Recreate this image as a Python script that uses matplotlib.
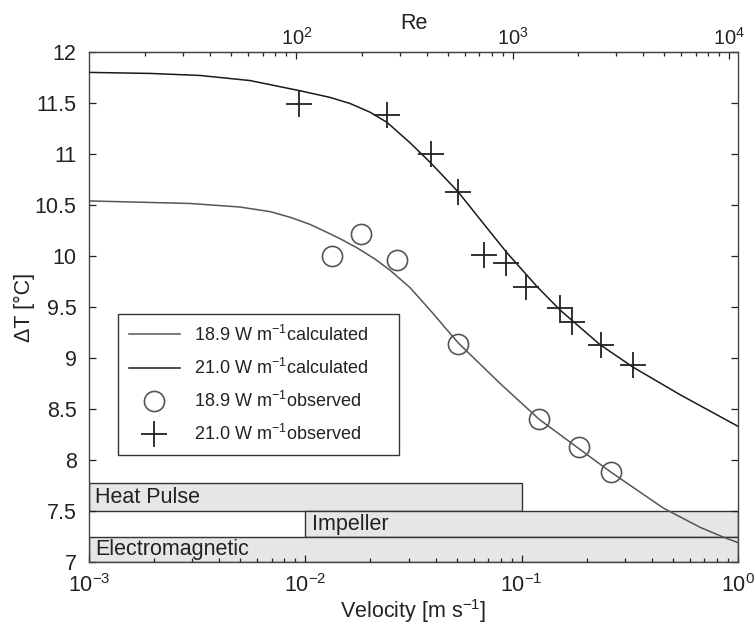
import matplotlib
matplotlib.use("Agg")
import matplotlib.pyplot as plt
import numpy as np
from matplotlib.ticker import FormatStrFormatter, MultipleLocator, FixedLocator

plt.rcParams['font.family'] = ['Liberation Sans', 'DejaVu Sans']
plt.rcParams['mathtext.default'] = 'regular'

# calculated curves
v_calc_hi = [0.001, 0.00191, 0.00326, 0.00555, 0.00945, 0.0130, 0.0161, 0.0199,
             0.02386, 0.03048, 0.0381, 0.0508, 0.0642, 0.0856, 0.1178, 0.1505,
             0.2305, 0.3273, 0.540, 1.0]
dt_calc_hi = [11.80, 11.79, 11.77, 11.72, 11.62, 11.555, 11.495, 11.41,
              11.31, 11.11, 10.91, 10.63, 10.36, 10.03, 9.70, 9.47,
              9.13, 8.91, 8.64, 8.33]

v_calc_lo = [0.001, 0.00293, 0.00499, 0.00687, 0.00850, 0.01051, 0.01208, 0.01447,
             0.01734, 0.02099, 0.02464, 0.03048, 0.03772, 0.0508, 0.0795, 0.1203,
             0.1843, 0.2590, 0.4506, 0.668, 0.853, 1.0]
dt_calc_lo = [10.54, 10.515, 10.48, 10.435, 10.38, 10.31, 10.25, 10.17,
              10.08, 9.97, 9.86, 9.69, 9.47, 9.15, 8.75, 8.40,
              8.11, 7.88, 7.53, 7.34, 7.245, 7.19]

# observed
v_obs_lo = [0.01327, 0.0181, 0.0266, 0.0508, 0.120, 0.184, 0.259]
dt_obs_lo = [10.00, 10.22, 9.96, 9.14, 8.40, 8.13, 7.88]

v_obs_hi = [0.00935, 0.0239, 0.0381, 0.0508, 0.067, 0.0847, 0.105, 0.150, 0.171, 0.233, 0.327]
dt_obs_hi = [11.49, 11.38, 11.00, 10.63, 10.01, 9.93, 9.70, 9.49, 9.35, 9.13, 8.93]

# measurement ranges of the methods
methods = ['Heat Pulse', 'Impeller', 'Electromagnetic']
m_start = [0.001, 0.01, 0.001]
m_end = [0.1, 1.0, 1.0]
m_low = [7.5, 7.25, 7.0]
m_high = [7.77, 7.5, 7.25]

re_factor = 1.1e4
re_ticks = [1e2, 1e3, 1e4]

fig = plt.figure(figsize=(7.56, 6.27), dpi=100)
ax = fig.add_axes([89 / 756, 1 - 562 / 627, 649 / 756, 510 / 627])

for name, s, e, lo, hi in zip(methods, m_start, m_end, m_low, m_high):
    ax.barh((lo + hi) / 2, e - s, left=s, height=hi - lo, color='#e6e6e6',
            edgecolor='#333333', linewidth=1, zorder=1)
    ax.text(s * 1.07, (lo + hi) / 2 - 0.005, name, va='center', ha='left',
            fontsize=15.5, color='#222222', zorder=2)

l1, = ax.plot(v_calc_lo, dt_calc_lo, color='#555555', lw=1.1, zorder=3,
              label='18.9 W m$^{-1}$calculated')
l2, = ax.plot(v_calc_hi, dt_calc_hi, color='#1a1a1a', lw=1.1, zorder=3,
              label='21.0 W m$^{-1}$calculated')
p1, = ax.plot(v_obs_lo, dt_obs_lo, 'o', mfc='none', mec='#555555', ms=14.5, mew=1.2,
              zorder=4, label='18.9 W m$^{-1}$observed')
p2, = ax.plot(v_obs_hi, dt_obs_hi, '+', color='#222222', ms=19, mew=1.3,
              zorder=4, label='21.0 W m$^{-1}$observed')

ax.set_xscale('log')
ax.set_xlim(1e-3, 1)
ax.set_ylim(7, 12)
ax.yaxis.set_major_locator(MultipleLocator(0.5))
ax.yaxis.set_major_formatter(FormatStrFormatter('%g'))
ax.tick_params(which='both', direction='in', top=False, right=True,
               labelsize=15.5, colors='#222222', width=0.9)
ax.tick_params(which='major', length=5, pad=9)
ax.tick_params(which='minor', length=3)
ax.tick_params(axis='y', which='minor', left=False, right=False)
for sp in ax.spines.values():
    sp.set_color('#444444')
    sp.set_linewidth(1)

ax.set_xlabel('Velocity [m s$^{-1}$]', fontsize=15.5, color='#222222', labelpad=0)
ax.set_ylabel('ΔT [°C]', fontsize=15.5, color='#222222')
ax.yaxis.set_label_coords(-0.083, 0.5)

sec = ax.secondary_xaxis('top', functions=(lambda v: v * re_factor,
                                           lambda r: r / re_factor))
sec.xaxis.set_major_locator(FixedLocator(re_ticks))
sec.tick_params(which='both', direction='in', labelsize=14.5, colors='#222222', width=0.9)
sec.tick_params(which='major', length=5, pad=2)
sec.tick_params(which='minor', length=3)
sec.set_xlabel('Re', fontsize=15.5, color='#222222', labelpad=-1)

leg = ax.legend(handles=[l1, l2, p1, p2], loc='lower left',
                bbox_to_anchor=(0.045, 0.21, 0.433, 0.28), mode='expand',
                borderaxespad=0, fontsize=13,
                fancybox=False, framealpha=1, edgecolor='#333333',
                handlelength=2.8, labelspacing=0.72, borderpad=0.6,
                handletextpad=0.8)
leg.get_frame().set_linewidth(1)
for t in leg.get_texts():
    t.set_color('#222222')

fig.savefig('out.png', dpi=100)
